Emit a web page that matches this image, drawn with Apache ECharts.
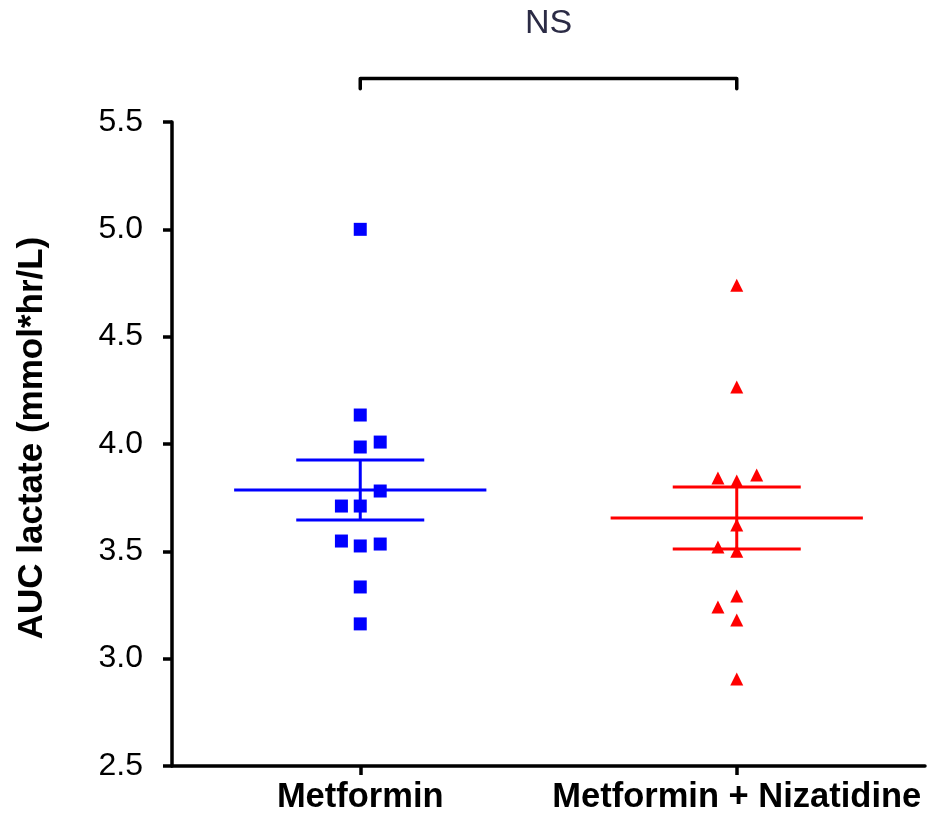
<!DOCTYPE html>
<html>
<head>
<meta charset="utf-8">
<title>AUC lactate</title>
<script src="https://cdn.jsdelivr.net/npm/echarts@6/dist/echarts.min.js"></script>
<style>
  html, body { margin: 0; padding: 0; background: #ffffff; }
  #chart { width: 929px; height: 817px; }
</style>
</head>
<body>
<div id="chart"></div>
<script>
// Treatment groups
const categories = ['Metformin', 'Metformin + Nizatidine'];

// Individual AUC lactate values (mmol*hr/L) and their horizontal scatter offsets
const metforminAUC = [5.00, 4.135, 3.986, 4.009, 3.781, 3.711, 3.711, 3.548, 3.525, 3.534, 3.334, 3.162];
const metforminJitter = [0, 0, 0, 0.106, 0.106, -0.1, 0, -0.1, 0, 0.106, 0, 0];

const nizatidineAUC = [4.74, 4.266, 3.842, 3.828, 3.856, 3.623, 3.52, 3.50, 3.292, 3.241, 3.18, 2.905];
const nizatidineJitter = [0, 0, -0.1, 0, 0.106, 0, -0.1, 0, 0, -0.1, 0, 0];

// Group mean with SEM limits
const groupMean = [3.786, 3.655];
const semLower = [3.646, 3.511];
const semUpper = [3.926, 3.80];

// Y axis range
const yMin = 2.5, yMax = 5.5, yStep = 0.5;

const FONT = '"Liberation Sans", Arial, Helvetica, sans-serif';
const BLUE = '#0000ff';
const RED = '#ff0000';
const groupColors = [BLUE, RED];

// Category centres on the hidden value axis (0..4): 1 and 3
const centre = i => 1 + 2 * i;

function pts(values, jitter, gi) {
  return values.map((v, k) => [centre(gi) + jitter[k], v]);
}

const summaryData = groupMean.map((m, i) => [centre(i), m, semLower[i], semUpper[i], i]);

const chart = echarts.init(document.getElementById('chart'), null, { renderer: 'canvas' });

chart.setOption({
  animation: false,
  backgroundColor: '#ffffff',
  grid: { left: 172, right: 4, top: 122, bottom: 51, containLabel: false },
  xAxis: [
    {
      type: 'category',
      data: categories,
      boundaryGap: true,
      axisLine: { show: true, lineStyle: { color: '#000', width: 3.5 } },
      axisTick: { show: true, alignWithLabel: true, length: 9, lineStyle: { color: '#000', width: 3.5 } },
      axisLabel: {
        color: '#000', fontFamily: FONT, fontWeight: 'bold', fontSize: 34.5, margin: 14,
        interval: 0, hideOverlap: false
      },
      splitLine: { show: false }
    },
    {
      type: 'value',
      min: 0, max: 4,
      show: false
    }
  ],
  yAxis: {
    type: 'value',
    min: yMin, max: yMax, interval: yStep,
    name: 'AUC lactate (mmol*hr/L)',
    nameLocation: 'middle',
    nameGap: 122,
    nameTextStyle: {
      color: '#000', fontFamily: FONT, fontWeight: 'bold', fontSize: 35,
      padding: [0, 0, 0, 12]
    },
    axisLine: { show: true, lineStyle: { color: '#000', width: 3.5 } },
    axisTick: { show: true, length: 9, lineStyle: { color: '#000', width: 3.5 } },
    axisLabel: {
      color: '#000', fontFamily: FONT, fontSize: 32, margin: 29,
      formatter: v => v.toFixed(1)
    },
    splitLine: { show: false }
  },
  series: [
    {
      // mean line with SEM bars
      type: 'custom',
      xAxisIndex: 1,
      z: 2,
      data: summaryData,
      renderItem: function (params, api) {
        const x = api.value(0), m = api.value(1), lo = api.value(2), hi = api.value(3);
        const color = groupColors[api.value(4)];
        const style = { stroke: color, lineWidth: 3 };
        const seg = (x1, y1, x2, y2) => {
          const a = api.coord([x1, y1]), b = api.coord([x2, y2]);
          return { type: 'line', shape: { x1: a[0], y1: a[1], x2: b[0], y2: b[1] }, style: style };
        };
        return {
          type: 'group',
          children: [
            seg(x - 0.67, m, x + 0.67, m),
            seg(x - 0.34, lo, x + 0.34, lo),
            seg(x - 0.34, hi, x + 0.34, hi),
            seg(x, lo, x, hi)
          ]
        };
      }
    },
    {
      name: categories[0],
      type: 'scatter',
      xAxisIndex: 1,
      z: 3,
      symbol: 'rect',
      symbolSize: 13,
      itemStyle: { color: BLUE, opacity: 1 },
      data: pts(metforminAUC, metforminJitter, 0)
    },
    {
      name: categories[1],
      type: 'scatter',
      xAxisIndex: 1,
      z: 3,
      symbol: 'triangle',
      symbolSize: 13,
      itemStyle: { color: RED, opacity: 1 },
      data: pts(nizatidineAUC, nizatidineJitter, 1)
    },
    {
      // significance bracket between the two groups
      type: 'custom',
      xAxisIndex: 1,
      clip: false,
      silent: true,
      data: [[centre(0), centre(1)]],
      renderItem: function (params, api) {
        const a = api.coord([api.value(0), 5.703]);
        const b = api.coord([api.value(1), 5.703]);
        const drop = api.coord([api.value(0), 5.655])[1];
        const t = api.coord([(api.value(0) + api.value(1)) / 2, 5.96]);
        const style = { stroke: '#000', lineWidth: 3.5, lineCap: 'round', lineJoin: 'round', fill: null };
        return {
          type: 'group',
          children: [
            { type: 'polyline', shape: { points: [[a[0], drop], a, b, [b[0], drop]] }, style: style },
            {
              type: 'text',
              x: t[0], y: t[1],
              style: {
                text: 'NS', fill: '#2b2b45', font: 'normal 34px ' + FONT,
                align: 'center', verticalAlign: 'middle'
              }
            }
          ]
        };
      }
    }
  ]
});
</script>
</body>
</html>
